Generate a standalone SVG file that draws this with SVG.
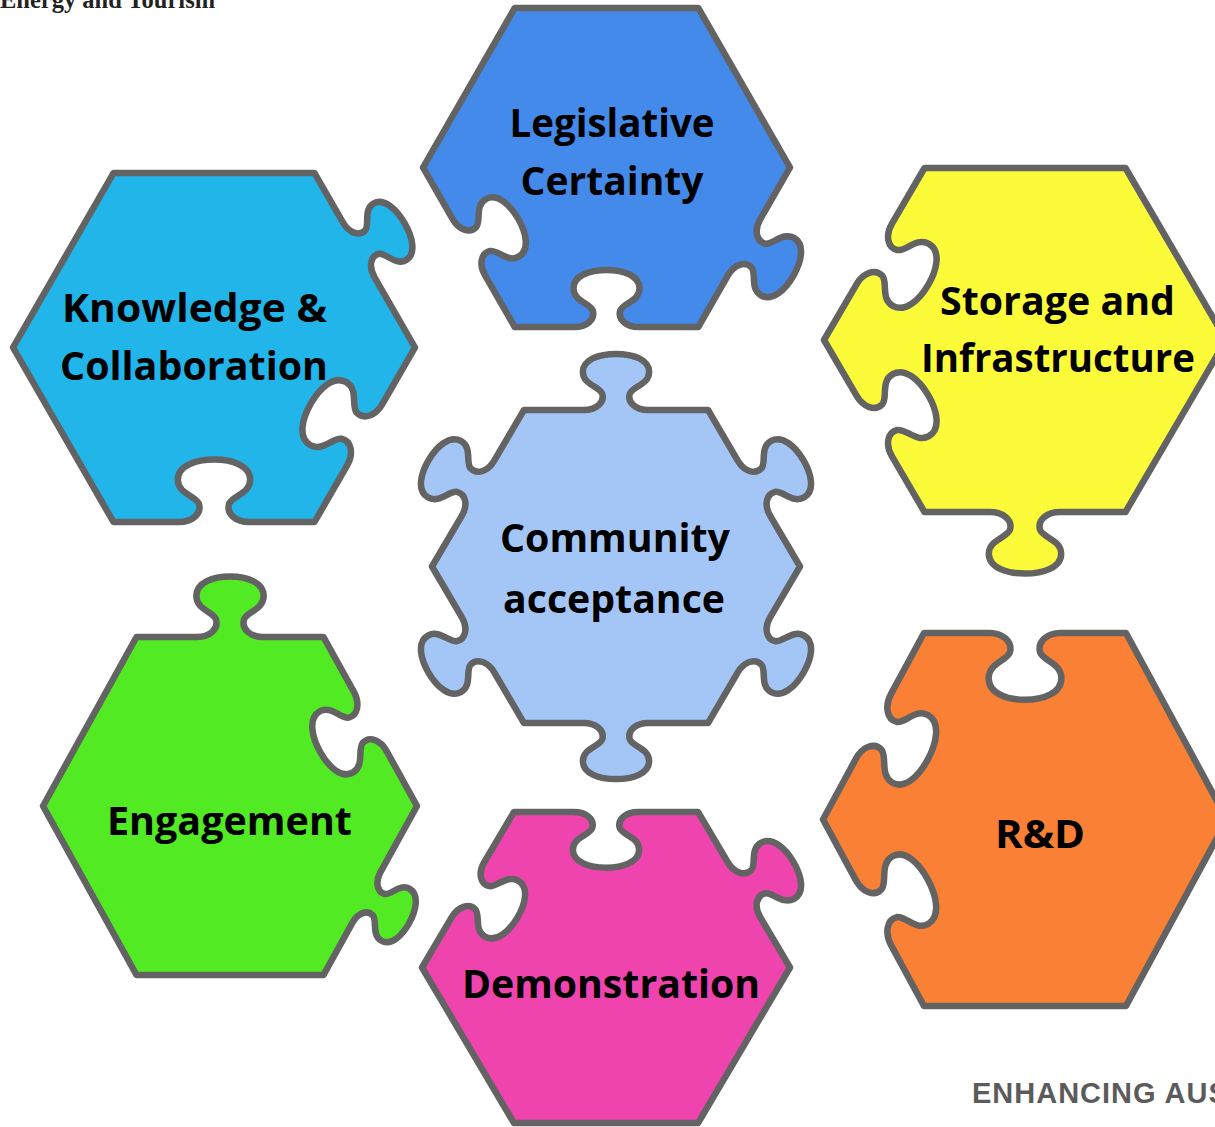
<svg xmlns="http://www.w3.org/2000/svg" width="1215" height="1127" viewBox="0 0 1215 1127">
<style>
.pc{stroke:#636363;stroke-width:6.5;stroke-linejoin:round;vector-effect:non-scaling-stroke}
.lb{font-family:"Open Sans","Liberation Sans",sans-serif;font-weight:700;font-size:39px;fill:#000;text-anchor:middle}
</style>
<rect width="1215" height="1127" fill="#fff"/>
<text x="0" y="8" font-family="Liberation Serif,serif" font-weight="700" font-size="24.5" fill="#222">Energy and Tourism</text>
<text x="972" y="1103" font-family="Liberation Sans,sans-serif" font-weight="700" font-size="29" letter-spacing="1" fill="#5b5b5b">ENHANCING AUS</text>
<g id="connectors"></g>

<g id="legislative">
<path class="pc" fill="#438AEB" transform="translate(606.5,167.5) scale(0.9175,0.921)" d="M-100,-173.2 L100,-173.2 L200,0 L167.5,56.29 C161,67.55 162.93,80.21 173.09,82.61 C181.52,84.01 192.25,69.42 204.37,76.42 C216.5,83.42 212.69,102.01 203.69,117.6 C194.69,133.19 180.5,145.78 168.37,138.78 C156.25,131.78 163.52,115.19 158.09,108.59 C150.93,100.99 139,105.65 132.5,116.91 L100,173.2 L35,173.2 C22,173.2 12,165.2 15,155.2 C18,147.2 36,145.2 36,131.2 C36,117.2 18,111.2 0,111.2 C-18,111.2 -36,117.2 -36,131.2 C-36,145.2 -18,147.2 -15,155.2 C-12,165.2 -22,173.2 -35,173.2 L-100,173.2 L-132.5,116.91 C-139,105.65 -137.07,92.99 -126.91,90.59 C-118.48,89.19 -107.75,103.78 -95.63,96.78 C-83.5,89.78 -87.31,71.19 -96.31,55.6 C-105.31,40.01 -119.5,27.42 -131.63,34.42 C-143.75,41.42 -136.48,58.01 -141.91,64.61 C-149.07,72.21 -161,67.55 -167.5,56.29 L-200,0 Z"/>
<text class="lb" x="612" y="137" textLength="205" lengthAdjust="spacingAndGlyphs">Legislative</text>
<text class="lb" x="612" y="195" textLength="183" lengthAdjust="spacingAndGlyphs">Certainty</text>
</g>

<g id="knowledge">
<path class="pc" fill="#21B5EA" transform="translate(214,347.5) scale(1.005,1.0075)" d="M-100,-173.2 L100,-173.2 L128.25,-124.27 C134.1,-114.14 144.49,-109.74 150.5,-116.33 C155.04,-122.07 148.41,-136.95 158.72,-142.9 C169.02,-148.85 181.54,-137.37 189.64,-123.34 C197.74,-109.31 201.42,-92.73 191.12,-86.78 C180.81,-80.83 171.24,-94.01 164,-92.95 C155.29,-91.04 153.9,-79.85 159.75,-69.71 L200,0 L167.5,56.29 C161,67.55 149.07,72.21 141.91,64.61 C136.48,58.01 143.75,41.42 131.63,34.42 C119.5,27.42 105.31,40.01 96.31,55.6 C87.31,71.19 83.5,89.78 95.63,96.78 C107.75,103.78 118.48,89.19 126.91,90.59 C137.07,92.99 139,105.65 132.5,116.91 L100,173.2 L35,173.2 C22,173.2 12,165.2 15,155.2 C18,147.2 36,145.2 36,131.2 C36,117.2 18,111.2 0,111.2 C-18,111.2 -36,117.2 -36,131.2 C-36,145.2 -18,147.2 -15,155.2 C-12,165.2 -22,173.2 -35,173.2 L-100,173.2 L-200,0 Z"/>
<text class="lb" x="194.5" y="322" textLength="265" lengthAdjust="spacingAndGlyphs">Knowledge &amp;</text>
<text class="lb" x="194" y="380" textLength="268" lengthAdjust="spacingAndGlyphs">Collaboration</text>
</g>

<g id="storage">
<path class="pc" fill="#FBFB3A" transform="translate(1025,340) scale(1.005,0.993)" d="M-100,-173.2 L100,-173.2 L200,0 L100,173.2 L35,173.2 C22,173.2 12,181.2 15,191.2 C18,199.2 36,201.2 36,215.2 C36,229.2 18,235.2 0,235.2 C-18,235.2 -36,229.2 -36,215.2 C-36,201.2 -18,199.2 -15,191.2 C-12,181.2 -22,173.2 -35,173.2 L-100,173.2 L-132.5,116.91 C-139,105.65 -137.07,92.99 -126.91,90.59 C-118.48,89.19 -107.75,103.78 -95.63,96.78 C-83.5,89.78 -87.31,71.19 -96.31,55.6 C-105.31,40.01 -119.5,27.42 -131.63,34.42 C-143.75,41.42 -136.48,58.01 -141.91,64.61 C-149.07,72.21 -161,67.55 -167.5,56.29 L-200,0 L-167.5,-56.29 C-161,-67.55 -149.07,-72.21 -141.91,-64.61 C-136.48,-58.01 -143.75,-41.42 -131.63,-34.42 C-119.5,-27.42 -105.31,-40.01 -96.31,-55.6 C-87.31,-71.19 -83.5,-89.78 -95.63,-96.78 C-107.75,-103.78 -118.48,-89.19 -126.91,-90.59 C-137.07,-92.99 -139,-105.65 -132.5,-116.91 Z"/>
<text class="lb" x="1057.5" y="315" textLength="235" lengthAdjust="spacingAndGlyphs">Storage and</text>
<text class="lb" x="1058" y="372" textLength="274" lengthAdjust="spacingAndGlyphs">Infrastructure</text>
</g>

<g id="community">
<path class="pc" fill="#A4C6F7" transform="translate(616,566.5) scale(0.92,0.904)" d="M-100,-173.2 L-35,-173.2 C-22,-173.2 -12,-181.2 -15,-191.2 C-18,-199.2 -36,-201.2 -36,-215.2 C-36,-229.2 -18,-235.2 0,-235.2 C18,-235.2 36,-229.2 36,-215.2 C36,-201.2 18,-199.2 15,-191.2 C12,-181.2 22,-173.2 35,-173.2 L100,-173.2 L132.5,-116.91 C139,-105.65 150.93,-100.99 158.09,-108.59 C163.52,-115.19 156.25,-131.78 168.37,-138.78 C180.5,-145.78 194.69,-133.19 203.69,-117.6 C212.69,-102.01 216.5,-83.42 204.37,-76.42 C192.25,-69.42 181.52,-84.01 173.09,-82.61 C162.93,-80.21 161,-67.55 167.5,-56.29 L200,0 L167.5,56.29 C161,67.55 162.93,80.21 173.09,82.61 C181.52,84.01 192.25,69.42 204.37,76.42 C216.5,83.42 212.69,102.01 203.69,117.6 C194.69,133.19 180.5,145.78 168.37,138.78 C156.25,131.78 163.52,115.19 158.09,108.59 C150.93,100.99 139,105.65 132.5,116.91 L100,173.2 L35,173.2 C22,173.2 12,181.2 15,191.2 C18,199.2 36,201.2 36,215.2 C36,229.2 18,235.2 0,235.2 C-18,235.2 -36,229.2 -36,215.2 C-36,201.2 -18,199.2 -15,191.2 C-12,181.2 -22,173.2 -35,173.2 L-100,173.2 L-132.5,116.91 C-139,105.65 -150.93,100.99 -158.09,108.59 C-163.52,115.19 -156.25,131.78 -168.37,138.78 C-180.5,145.78 -194.69,133.19 -203.69,117.6 C-212.69,102.01 -216.5,83.42 -204.37,76.42 C-192.25,69.42 -181.52,84.01 -173.09,82.61 C-162.93,80.21 -161,67.55 -167.5,56.29 L-200,0 L-167.5,-56.29 C-161,-67.55 -162.93,-80.21 -173.09,-82.61 C-181.52,-84.01 -192.25,-69.42 -204.37,-76.42 C-216.5,-83.42 -212.69,-102.01 -203.69,-117.6 C-194.69,-133.19 -180.5,-145.78 -168.37,-138.78 C-156.25,-131.78 -163.52,-115.19 -158.09,-108.59 C-150.93,-100.99 -139,-105.65 -132.5,-116.91 Z"/>
<text class="lb" x="615" y="552" textLength="230" lengthAdjust="spacingAndGlyphs">Community</text>
<text class="lb" x="614" y="613" textLength="222" lengthAdjust="spacingAndGlyphs">acceptance</text>
</g>

<g id="engagement">
<path class="pc" fill="#52EA23" transform="translate(230,806) scale(0.935,0.976)" d="M-100,-173.2 L-35,-173.2 C-22,-173.2 -12,-181.2 -15,-191.2 C-18,-199.2 -36,-201.2 -36,-215.2 C-36,-229.2 -18,-235.2 0,-235.2 C18,-235.2 36,-229.2 36,-215.2 C36,-201.2 18,-199.2 15,-191.2 C12,-181.2 22,-173.2 35,-173.2 L100,-173.2 L132.5,-116.91 C139,-105.65 137.07,-92.99 126.91,-90.59 C118.48,-89.19 107.75,-103.78 95.63,-96.78 C83.5,-89.78 87.31,-71.19 96.31,-55.6 C105.31,-40.01 119.5,-27.42 131.63,-34.42 C143.75,-41.42 136.48,-58.01 141.91,-64.61 C149.07,-72.21 161,-67.55 167.5,-56.29 L200,0 L160.88,67.76 C155.35,77.33 156.99,88.09 165.63,90.14 C172.79,91.33 181.91,78.93 192.22,84.88 C202.52,90.83 199.29,106.63 191.64,119.88 C183.99,133.13 171.92,143.83 161.62,137.88 C151.31,131.93 157.49,117.83 152.88,112.22 C146.79,105.76 136.65,109.72 131.13,119.29 L100,173.2 L-100,173.2 L-200,0 Z"/>
<text class="lb" x="229.5" y="835" textLength="245" lengthAdjust="spacingAndGlyphs">Engagement</text>
</g>

<g id="demonstration">
<path class="pc" fill="#EF44AE" transform="translate(606,967.5) scale(0.92,0.898)" d="M-100,-173.2 L-35,-173.2 C-22,-173.2 -12,-165.2 -15,-155.2 C-18,-147.2 -36,-145.2 -36,-131.2 C-36,-117.2 -18,-111.2 0,-111.2 C18,-111.2 36,-117.2 36,-131.2 C36,-145.2 18,-147.2 15,-155.2 C12,-165.2 22,-173.2 35,-173.2 L100,-173.2 L132.5,-116.91 C139,-105.65 150.93,-100.99 158.09,-108.59 C163.52,-115.19 156.25,-131.78 168.37,-138.78 C180.5,-145.78 194.69,-133.19 203.69,-117.6 C212.69,-102.01 216.5,-83.42 204.37,-76.42 C192.25,-69.42 181.52,-84.01 173.09,-82.61 C162.93,-80.21 161,-67.55 167.5,-56.29 L200,0 L100,173.2 L-100,173.2 L-200,0 L-167.5,-56.29 C-161,-67.55 -149.07,-72.21 -141.91,-64.61 C-136.48,-58.01 -143.75,-41.42 -131.63,-34.42 C-119.5,-27.42 -105.31,-40.01 -96.31,-55.6 C-87.31,-71.19 -83.5,-89.78 -95.63,-96.78 C-107.75,-103.78 -118.48,-89.19 -126.91,-90.59 C-137.07,-92.99 -139,-105.65 -132.5,-116.91 Z"/>
<text class="lb" x="611" y="998" textLength="298" lengthAdjust="spacingAndGlyphs">Demonstration</text>
</g>

<g id="rd">
<path class="pc" fill="#F98035" transform="translate(1025,819.5) scale(1.01,1.077)" d="M-100,-173.2 L-35,-173.2 C-22,-173.2 -12,-165.2 -15,-155.2 C-18,-147.2 -36,-145.2 -36,-131.2 C-36,-117.2 -18,-111.2 0,-111.2 C18,-111.2 36,-117.2 36,-131.2 C36,-145.2 18,-147.2 15,-155.2 C12,-165.2 22,-173.2 35,-173.2 L100,-173.2 L200,0 L100,173.2 L-100,173.2 L-132.5,116.91 C-139,105.65 -137.07,92.99 -126.91,90.59 C-118.48,89.19 -107.75,103.78 -95.63,96.78 C-83.5,89.78 -87.31,71.19 -96.31,55.6 C-105.31,40.01 -119.5,27.42 -131.63,34.42 C-143.75,41.42 -136.48,58.01 -141.91,64.61 C-149.07,72.21 -161,67.55 -167.5,56.29 L-200,0 L-167.5,-56.29 C-161,-67.55 -149.07,-72.21 -141.91,-64.61 C-136.48,-58.01 -143.75,-41.42 -131.63,-34.42 C-119.5,-27.42 -105.31,-40.01 -96.31,-55.6 C-87.31,-71.19 -83.5,-89.78 -95.63,-96.78 C-107.75,-103.78 -118.48,-89.19 -126.91,-90.59 C-137.07,-92.99 -139,-105.65 -132.5,-116.91 Z"/>
<text class="lb" x="1040" y="848" textLength="90" lengthAdjust="spacingAndGlyphs">R&amp;D</text>
</g>
</svg>
